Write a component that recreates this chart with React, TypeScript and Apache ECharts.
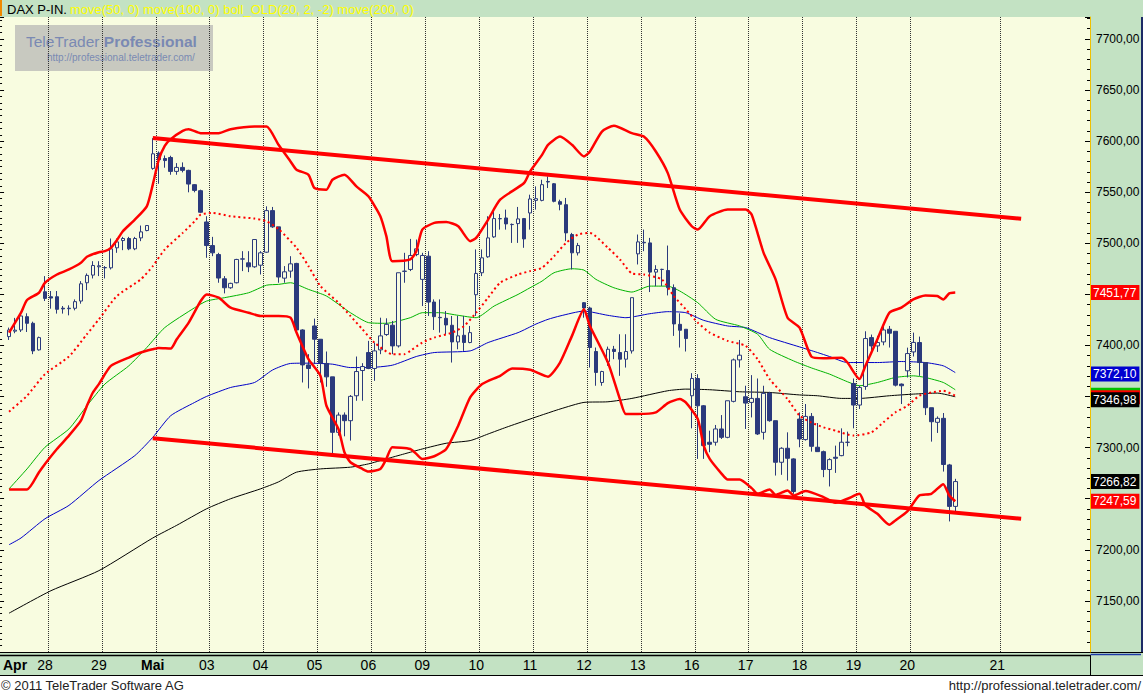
import React, { useEffect, useRef } from 'react';
import * as echarts from 'echarts';

// ---------- data ----------
const SLOT_COUNT = 181;

// x-axis labels: [slot index, text, bold]
const dayLabels: [number, string, boolean][] = [
  [0, 'Apr', true], [6, '28', false], [15, '29', false], [24, 'Mai', true], [33, '03', false],
  [42, '04', false], [51, '05', false], [60, '06', false], [69, '09', false], [78, '10', false],
  [87, '11', false], [96, '12', false], [105, '13', false], [114, '16', false], [123, '17', false],
  [132, '18', false], [141, '19', false], [150, '20', false], [165, '21', false],
];
// slots whose left edge carries a dotted day separator
const daySeparators = [7, 16, 25, 34, 43, 52, 61, 70, 79, 88, 97, 106, 115, 124, 133, 142, 151, 166];

// hourly candles: [open, high, low, close]
const ohlc: [number, number, number, number][] = [
  [7408.7, 7417.5, 7405.4, 7415.2], [7414, 7427, 7412, 7415], [7415.2, 7430.5, 7413.2, 7428.9],
  [7428.2, 7431.5, 7413.2, 7421.7], [7421.7, 7423.3, 7391.5, 7394.7], [7395.7, 7408.7, 7395, 7407.7],
  [7452.6, 7467.9, 7443.5, 7446.1], [7447.7, 7453.3, 7436, 7446.4], [7447.7, 7453.3, 7431.2, 7435.4],
  [7436.5, 7438.6, 7431.2, 7435.8], [7436, 7439.3, 7429.5, 7436.5], [7436.4, 7445.1, 7434.4, 7442.9],
  [7443.5, 7463, 7440.9, 7460.4], [7461.4, 7470.5, 7454.2, 7468.6], [7468.9, 7482.5, 7465.6, 7478.3],
  [7477, 7482.5, 7467.9, 7478], [7476, 7477.7, 7465.6, 7476.3], [7476, 7504.7, 7474.4, 7494.6],
  [7495.6, 7504.7, 7490.7, 7501.4], [7502.7, 7506.3, 7493.3, 7504.7], [7504.7, 7506.3, 7493.3, 7494.6],
  [7494.6, 7506.3, 7493.3, 7504.7], [7505.3, 7517.4, 7502.1, 7511.2], [7512.5, 7517.4, 7511.8, 7517.4],
  [7573.3, 7602.9, 7572, 7587.6], [7588.3, 7589.9, 7558.3, 7581.8], [7583, 7586, 7574, 7581],
  [7584, 7585.7, 7567.1, 7570.4], [7570.4, 7578.5, 7567.1, 7574.3], [7574.3, 7579.2, 7569.4, 7571.4],
  [7571.4, 7572, 7549.9, 7558], [7557.4, 7558, 7549.9, 7551.8], [7551.5, 7552.5, 7529.7, 7530.4],
  [7520.9, 7526.5, 7485.8, 7497.8], [7497.8, 7506.3, 7487.4, 7490.7], [7489, 7490.7, 7461.4, 7466],
  [7465.3, 7467.9, 7451, 7456.5], [7456.5, 7461.4, 7455.5, 7460.8], [7461.4, 7484.8, 7460.8, 7484.2],
  [7484.5, 7492.3, 7472.8, 7484.8], [7480.9, 7492.3, 7471.8, 7477], [7477, 7503.7, 7476, 7503.7],
  [7478.6, 7492.3, 7469.5, 7490.7], [7491.3, 7536.2, 7490.7, 7532], [7532, 7535.6, 7515.1, 7516.1],
  [7516.1, 7516.1, 7461.4, 7467], [7465.9, 7477.7, 7461.4, 7472.1], [7472.8, 7487.4, 7466.3, 7479.9],
  [7480.3, 7480.9, 7415.2, 7415.2], [7415.2, 7415.9, 7363.8, 7381], [7381, 7391.5, 7358, 7377.5],
  [7419.1, 7426.3, 7381.7, 7406.1], [7406.1, 7406.1, 7363.8, 7382.7], [7382.4, 7394.1, 7359.6, 7369.3],
  [7369.3, 7369.3, 7293.9, 7315], [7315, 7334.5, 7311.8, 7331.9], [7331.9, 7334.5, 7311.1, 7326.4],
  [7326.4, 7351.5, 7306.9, 7350.2], [7350.8, 7389.2, 7345.9, 7374.5], [7375.5, 7382.7, 7345.9, 7379.4],
  [7393.1, 7404.5, 7376.8, 7377.5], [7377.5, 7402.9, 7365.4, 7394.7], [7395.7, 7427.2, 7391.5, 7409.4],
  [7410.7, 7426.6, 7409.4, 7420.7], [7419.8, 7424, 7391.5, 7399.6], [7399.6, 7471.2, 7398, 7471.2],
  [7472.5, 7490.7, 7461.4, 7472.8], [7474.4, 7504.3, 7472.8, 7488.1], [7489, 7503.7, 7487.4, 7494.6],
  [7464.7, 7490.7, 7438.6, 7488.1], [7487.4, 7492.3, 7428.9, 7442.5], [7442.5, 7445.1, 7415.2, 7428.2],
  [7427.5, 7445.1, 7412.6, 7427.2], [7426.6, 7433.7, 7411, 7420.1], [7419.8, 7428.9, 7383.3, 7403.5],
  [7403.5, 7428.9, 7396.3, 7409.4], [7410, 7428.9, 7394.7, 7402.9], [7402.9, 7419.1, 7402.2, 7412.6],
  [7449.7, 7494, 7428.9, 7470.5], [7471.2, 7494, 7467.9, 7485.8], [7486.8, 7526.5, 7485.8, 7505.3],
  [7506.3, 7533, 7505.3, 7524.2], [7524, 7528.7, 7513.4, 7524.2], [7524.8, 7533, 7513.4, 7519],
  [7518.5, 7519.4, 7500.4, 7518.3], [7519.3, 7535.6, 7500.4, 7523.9], [7524.2, 7524.8, 7495.6, 7504.3],
  [7529.7, 7547.6, 7513.4, 7543.4], [7542, 7555.7, 7533, 7543.7], [7542, 7562.2, 7541.1, 7557.4],
  [7560, 7565.5, 7554.1, 7560.5], [7558.3, 7559, 7540.1, 7541.1], [7540.8, 7542.7, 7532.3, 7538.2],
  [7537.8, 7544.4, 7502.1, 7510.2], [7508.6, 7510.2, 7474.4, 7490.7], [7490.7, 7500.4, 7488.1, 7497.8],
  [7441.9, 7442.5, 7427.2, 7436.7], [7436.7, 7438, 7378.4, 7398], [7394.1, 7398, 7360.6, 7373.6],
  [7363.8, 7375.2, 7360.6, 7374.5], [7384.3, 7398.9, 7380.1, 7396.3], [7396.3, 7399.6, 7386.6, 7394.1],
  [7393.1, 7411, 7370.3, 7386.6], [7386.6, 7411, 7378.4, 7394.1], [7394.7, 7446.8, 7392.1, 7446.8],
  [7489.7, 7508.6, 7479.3, 7501.4], [7501, 7513.4, 7492.3, 7500.5], [7500.4, 7505.3, 7452.3, 7471.8],
  [7471.8, 7478.6, 7458.1, 7474.4], [7474.4, 7475.1, 7458.1, 7474.5], [7473.4, 7497.8, 7449, 7456.5],
  [7456.5, 7459.8, 7409.4, 7421.1], [7420.7, 7431.5, 7398, 7414.9], [7415.9, 7415.9, 7394.1, 7406.8],
  [7350.8, 7372.9, 7318.9, 7367.7], [7367.7, 7371.9, 7289, 7341], [7341, 7341.7, 7289, 7302],
  [7305.3, 7316.6, 7295.5, 7303.3], [7305.3, 7322.2, 7302, 7318.3], [7318.3, 7331.9, 7308.5, 7310.1],
  [7310.1, 7345.9, 7309.2, 7345.9], [7345.3, 7387.2, 7344.3, 7385.9], [7385.9, 7405.4, 7378.4, 7390.5],
  [7349.8, 7360.6, 7318.3, 7343.6], [7344.3, 7371, 7329.6, 7348.2], [7348.2, 7367.7, 7312.4, 7313.4],
  [7315, 7360.6, 7307.9, 7353.1], [7353.4, 7354.7, 7325.4, 7326.4], [7326.4, 7326.4, 7272.7, 7285.7],
  [7285.7, 7300.4, 7273.4, 7299.4], [7299.4, 7315, 7267.8, 7289.6], [7289, 7289.6, 7254.8, 7257.1],
  [7328, 7334.5, 7300.4, 7308.5], [7307.9, 7342.7, 7306.9, 7330.6], [7330.6, 7333.9, 7296.1, 7301.3],
  [7300.4, 7324.1, 7296.1, 7296.1], [7296.1, 7297.1, 7271.1, 7278.6], [7278.6, 7289.6, 7262, 7288.3],
  [7290.6, 7302, 7275.3, 7289.6], [7292.2, 7318.9, 7291.6, 7305.3], [7305.2, 7315.7, 7301.3, 7305.3],
  [7362.8, 7367.7, 7318.9, 7341.7], [7341.7, 7360.6, 7337.8, 7358.9], [7359.9, 7413.9, 7356.6, 7406.8],
  [7407.7, 7410.7, 7394.7, 7399.6], [7399.6, 7409.4, 7393.7, 7402.9], [7403.5, 7418.5, 7400.2, 7415.2],
  [7415.9, 7419.1, 7398, 7412], [7413.9, 7413.9, 7359.9, 7361.2], [7362.2, 7362.8, 7342.7, 7360.6],
  [7375.2, 7397.9, 7368.7, 7392.1], [7393.7, 7412.6, 7389.2, 7403], [7402.9, 7408.7, 7370.3, 7383.3],
  [7383.3, 7383.3, 7331.9, 7339.1], [7339.1, 7339.1, 7305.9, 7325.4], [7324.8, 7330.6, 7314.4, 7328.7],
  [7328.7, 7333.9, 7276.6, 7283.5], [7283.1, 7284.1, 7227.8, 7242.5], [7242.5, 7269.5, 7237, 7266.8],
];

// indicator lines: [slot index, value]
const bollUpper: [number, number][] = [
  [0, 7412.6], [2, 7432.1], [3, 7444.5], [5, 7451.6], [6, 7461.4], [8, 7469.5], [10, 7474.4], [12, 7480.9],
  [13, 7486.8], [15, 7491.3], [16, 7492.3], [17, 7495.6], [18, 7503], [19, 7511.8], [21, 7523.2], [23, 7536.2],
  [24, 7557.4], [25, 7581.8], [26, 7595.4], [27, 7602], [29, 7610.1], [30, 7611.7], [32, 7607.8], [35, 7607.8],
  [37, 7611.7], [41, 7614.3], [43, 7614.3], [45, 7596.4], [47, 7580.1], [48, 7572], [50, 7567.1], [51, 7554.1],
  [53, 7552.5], [54, 7562.2], [56, 7567.1], [58, 7555.7], [60, 7546], [62, 7526.5], [63, 7507], [64, 7482.5],
  [67, 7484.2], [68, 7492.3], [69, 7513.4], [71, 7520], [73, 7520.9], [75, 7516.7], [77, 7502.1], [78, 7505.3],
  [80, 7523.2], [82, 7542.7], [86, 7559], [87, 7570.4], [89, 7586.6], [90, 7596.4], [92, 7604.5], [94, 7596.4],
  [96, 7585], [97, 7589.9], [99, 7609.4], [101, 7615], [104, 7607.8], [106, 7604.5], [108, 7589.9], [110, 7568.7],
  [112, 7533], [114, 7516.7], [115, 7513.4], [117, 7526.5], [120, 7533], [123, 7533], [124, 7528.1], [126, 7490.7],
  [128, 7464.7], [130, 7427.2], [132, 7417.5], [134, 7389], [136, 7387.5], [139, 7387.9], [140, 7383.3],
  [142, 7367.1], [143, 7380.1], [145, 7406.1], [147, 7432.1], [149, 7437], [151, 7445.1], [153, 7449],
  [155, 7448.4], [156, 7445.1], [157, 7451], [158, 7451.8],
];
const bollLower: [number, number][] = [
  [0, 7259.1], [3, 7259.1], [5, 7276], [6, 7284.1], [8, 7298.7], [10, 7311.8], [12, 7326.4], [13, 7341],
  [14, 7354], [15, 7362.2], [17, 7380], [20, 7388.2], [22, 7393.1], [24, 7396.3], [25, 7397.6], [27, 7397],
  [28, 7406.1], [30, 7422.4], [32, 7443.5], [33, 7450], [35, 7446.8], [37, 7437], [40, 7432.1], [42, 7428.9],
  [45, 7428.9], [47, 7427.2], [48, 7412.6], [50, 7386.6], [52, 7370.3], [53, 7341], [55, 7318.3], [56, 7295.5],
  [57, 7285.7], [59, 7279.2], [60, 7276.6], [62, 7279.2], [63, 7289], [64, 7300.4], [67, 7298.7], [68, 7293.9],
  [69, 7289], [71, 7291.6], [73, 7298.7], [75, 7321.5], [77, 7349.2], [79, 7362.2], [82, 7370.3], [84, 7377.5],
  [87, 7376.2], [90, 7369.5], [92, 7383.3], [94, 7409.4], [96, 7435.4], [97, 7419.1], [100, 7383.3],
  [102, 7347.5], [103, 7332.9], [105, 7332.9], [108, 7334.5], [110, 7343.6], [112, 7347.5], [113, 7344.3],
  [115, 7328], [116, 7302], [117, 7289], [119, 7274.4], [120, 7268.8], [122, 7268.8], [124, 7260.4],
  [125, 7254.8], [127, 7259.1], [128, 7253.9], [130, 7258.1], [131, 7253.2], [133, 7257.6], [136, 7251.6],
  [138, 7246.1], [140, 7250], [142, 7254.8], [143, 7243.5], [145, 7235.3], [147, 7224.6], [148, 7228.8],
  [150, 7237.6], [152, 7253.2], [154, 7254.8], [156, 7264.3], [157, 7253.2], [158, 7247.6],
];
const bollMiddle: [number, number][] = [
  [0, 7335.2], [3, 7350.8], [6, 7371.9], [10, 7389.2], [13, 7411], [15, 7425.6], [18, 7448.4], [22, 7464.7],
  [24, 7477.7], [26, 7493.9], [29, 7510.2], [31, 7521.6], [32, 7528.1], [34, 7529.7], [37, 7526.5], [41, 7524.2],
  [43, 7521.5], [45, 7514], [48, 7495.6], [50, 7477.7], [52, 7458.1], [55, 7441.9], [57, 7428.9], [59, 7415.9],
  [61, 7402.9], [64, 7391.5], [66, 7391.5], [67, 7394.7], [69, 7402.9], [71, 7407.7], [74, 7412.6], [76, 7419.1],
  [78, 7432.1], [80, 7446.8], [82, 7461.4], [85, 7469.5], [87, 7472.8], [89, 7476], [91, 7487.4], [93, 7500.4],
  [95, 7508.6], [97, 7510.2], [100, 7495.6], [102, 7484.2], [104, 7470.5], [106, 7469.5], [109, 7464.7],
  [111, 7448.4], [113, 7435.4], [115, 7422.4], [117, 7412.6], [120, 7404.5], [123, 7399.6], [125, 7386.6],
  [127, 7367.1], [130, 7347.5], [132, 7331.3], [134, 7324.5], [136, 7319.9], [138, 7316.6], [141, 7311.8],
  [144, 7315], [146, 7324.8], [148, 7334.5], [150, 7341], [152, 7350.8], [154, 7354], [156, 7355.7], [158, 7350.8],
];
const ma50: [number, number][] = [
  [0, 7259.7], [3, 7279.2], [6, 7300.4], [10, 7318.3], [13, 7341], [16, 7362.2], [20, 7380.1], [23, 7398],
  [26, 7417.5], [31, 7437], [33, 7443.5], [36, 7446.8], [40, 7451.6], [43, 7459], [45, 7459.8], [47, 7461.4],
  [50, 7454.9], [53, 7448.4], [57, 7432.1], [60, 7422.4], [63, 7421.7], [67, 7427.2], [69, 7432.1], [72, 7432.1],
  [75, 7429.5], [78, 7427.2], [81, 7438.6], [85, 7450], [87, 7456.5], [89, 7463], [91, 7471.2], [94, 7475.1],
  [96, 7473.8], [98, 7464.7], [101, 7456.5], [104, 7452.3], [107, 7458.1], [110, 7458.1], [112, 7453.3],
  [115, 7441.9], [118, 7425.6], [122, 7419.1], [125, 7411], [127, 7396.3], [131, 7384.9], [134, 7378],
  [137, 7372], [140, 7364.5], [142, 7360.6], [145, 7363.8], [148, 7368.7], [151, 7370.3], [153, 7368.7],
  [156, 7363.8], [158, 7356.7],
];
const ma100: [number, number][] = [
  [0, 7205], [2, 7211.6], [6, 7230.4], [10, 7243.5], [15, 7267.8], [21, 7292.2], [24, 7310.1], [27, 7331.3],
  [31, 7344.3], [33, 7350.2], [37, 7358.9], [41, 7363.8], [44, 7376], [47, 7382.4], [50, 7382.7], [54, 7381.7],
  [57, 7378.4], [60, 7378.4], [64, 7380.7], [68, 7389.2], [71, 7393.1], [77, 7394.7], [80, 7402.9], [85, 7412.6],
  [88, 7421], [90, 7425.6], [92, 7428.9], [96, 7433.7], [100, 7429.5], [103, 7427.2], [107, 7431.1],
  [110, 7433.1], [113, 7432.1], [116, 7424.6], [120, 7419.1], [123, 7417.5], [127, 7407.7], [132, 7398.6],
  [135, 7393.1], [137, 7389.2], [140, 7383.3], [145, 7383.3], [149, 7384.3], [153, 7383.3], [156, 7380.1],
  [158, 7373.5],
];
const ma200: [number, number][] = [
  [0, 7138], [7, 7160], [15, 7179.6], [24, 7211.6], [28, 7224], [33, 7240.2], [37, 7250], [42, 7259.7],
  [45, 7266.5], [48, 7276], [52, 7279.2], [57, 7280.9], [60, 7284.1], [63, 7289], [66, 7293.9], [69, 7298.7],
  [73, 7304.3], [77, 7306.9], [80, 7313.4], [83, 7319.9], [87, 7328], [89, 7332], [92, 7337.8], [96, 7344.3],
  [100, 7344.9], [104, 7348.2], [110, 7355.7], [113, 7357.3], [117, 7356.7], [122, 7354.7], [127, 7354],
  [132, 7351.6], [135, 7350.8], [139, 7348.2], [142, 7348.2], [147, 7350.8], [151, 7352.4], [155, 7353.4],
  [158, 7349.8],
];
const trendUpper: [number, number][] = [[24, 7603], [169, 7524]];
const trendLower: [number, number][] = [[24, 7309.2], [169, 7230.4]];

// price tags on the value axis: [value, background, shows text]
const priceTags: [number, string, boolean][] = [
  [7451.77, '#ff0000', true],
  [7372.10, '#0000d0', true],
  [7351.9, '#00c000', false],
  [7349.4, '#ff0000', false],
  [7346.98, '#000000', true],
  [7266.82, '#000000', true],
  [7247.59, '#ff0000', true],
];
const hiddenTickValues = [7100, 7250, 7350, 7450];

// ---------- styles ----------
const PLOT_BG = '#f8fce0';
const PANEL = '#c3e2c3';
const NAVY = '#2b3a7c';
const FONT = 'Liberation Sans, Arial, sans-serif';

const fmt = (v: number) => v.toFixed(2).replace('.', ',');

export default function App() {
  const ref = useRef<HTMLDivElement>(null);

  useEffect(() => {
    document.body.style.margin = '0';
    const chart = echarts.init(ref.current!, null, { renderer: 'svg' });
    const labelMap: Record<number, [string, boolean]> = {};
    dayLabels.forEach(([i, t, b]) => (labelMap[i] = [t, b]));
    const sepSet = new Set(daySeparators);

    const lineSeries = (name: string, data: [number, number][], color: string, width: number, z: number, extra: any = {}) => ({
      name, type: 'line', data, symbol: 'none', showSymbol: false, smooth: 0.2, z,
      lineStyle: { color, width, ...(extra.lineStyle || {}) }, silent: true, animation: false,
      ...(extra.rest || {}),
    });

    const option: any = {
      animation: false,
      backgroundColor: 'transparent',
      grid: { left: 6, top: 17, width: 1084, height: 635, containLabel: false },
      xAxis: {
        type: 'category',
        data: Array.from({ length: SLOT_COUNT }, (_, i) => String(i)),
        boundaryGap: true,
        axisLine: { show: false },
        axisTick: { show: false },
        splitLine: {
          show: true,
          interval: (i: number) => sepSet.has(i),
          lineStyle: { color: '#333', type: [1, 1], width: 1 },
        },
        axisLabel: {
          interval: (i: number) => labelMap[i] !== undefined,
          formatter: (_v: string, i: number) => {
            const l = labelMap[i];
            if (!l) return '';
            if (i === 0) return `{p|${l[0]}}`;
            return l[1] ? `{b|${l[0]}}` : l[0];
          },
          margin: 6,
          color: '#000',
          fontSize: 14,
          fontFamily: FONT,
          rich: {
            b: { fontWeight: 'bold', fontSize: 14, fontFamily: FONT, color: '#000' },
            p: { fontWeight: 'bold', fontSize: 14, fontFamily: FONT, color: '#000', padding: [0, 0, 0, 12] },
          },
        },
      },
      yAxis: [
        {
          type: 'value', position: 'right', min: 7100, max: 7721.5, interval: 50,
          axisLine: { show: true, lineStyle: { color: '#f0c000', width: 1 } },
          axisTick: { show: true, inside: true, length: 5, lineStyle: { color: '#000' } },
          minorTick: { show: true, splitNumber: 5, length: 3, lineStyle: { color: '#000' } },
          splitLine: { show: false },
          axisLabel: {
            margin: 6, color: '#000', fontSize: 12, fontFamily: FONT, showMaxLabel: false,
            formatter: (v: number) => {
              const r = Math.round(v * 100) / 100;
              if (r % 50 !== 0 || hiddenTickValues.includes(r)) return '';
              return fmt(r);
            },
          },
        },
        {
          type: 'value', position: 'left', offset: 6, min: 7100, max: 7721.5, interval: 50,
          axisLine: { show: false },
          axisTick: { show: true, inside: true, length: 4, lineStyle: { color: '#000' } },
          minorTick: { show: true, splitNumber: 8, length: 2, lineStyle: { color: '#000' } },
          splitLine: { show: false },
          axisLabel: { show: false },
        },
      ],
      series: [
        lineSeries('move(200, 0)', ma200, '#000000', 1, 1),
        lineSeries('move(100, 0)', ma100, '#0000c8', 1, 1),
        lineSeries('move(50, 0)', ma50, '#00b400', 1, 1),
        {
          name: 'DAX P-IN.', type: 'candlestick', z: 2, barWidth: 4, silent: true, animation: false,
          data: ohlc.map(([o, h, l, c]) => [o, c, l, h]),
          itemStyle: { color: PLOT_BG, color0: NAVY, borderColor: NAVY, borderColor0: NAVY, borderWidth: 1 },
        },
        lineSeries('boll middle', bollMiddle, '#ff0000', 2, 3, { lineStyle: { type: [2, 3] } }),
        lineSeries('boll upper', bollUpper, '#ff0000', 2.5, 3),
        lineSeries('boll lower', bollLower, '#ff0000', 2.5, 3),
        lineSeries('trend upper', trendUpper, '#ff0000', 4, 4, { rest: { smooth: false } }),
        lineSeries('trend lower', trendLower, '#ff0000', 4, 4, {
          rest: {
            smooth: false,
            markLine: {
              silent: true, animation: false, symbol: ['none', 'none'],
              lineStyle: { color: 'transparent', width: 0 },
              data: priceTags.map(([v, bg, withText]) => ({
                yAxis: v,
                label: withText
                  ? {
                      show: true, position: 'end', distance: 1, formatter: fmt(v),
                      color: '#ffffff', backgroundColor: bg, padding: [2, 3, 1, 2],
                      fontSize: 12, fontFamily: FONT,
                    }
                  : {
                      show: true, position: 'end', distance: 1, formatter: ' ',
                      backgroundColor: bg, width: 44, height: 11, padding: [2, 3, 1, 2],
                      fontSize: 12, fontFamily: FONT,
                    },
              })),
            },
          },
        }),
      ],
      graphic: [
        { type: 'rect', z: -1, shape: { x: 0, y: 0, width: 1143, height: 17 }, style: { fill: PANEL } },
        { type: 'rect', z: -1, shape: { x: 0, y: 0, width: 2, height: 16 }, style: { fill: '#f08a00' } },
        { type: 'text', z: -1, x: 7, y: 9, style: { text: 'DAX P-IN.', fill: '#000', font: `13px ${FONT}`, verticalAlign: 'middle' } },
        { type: 'text', z: -1, x: 70, y: 9, style: { text: 'move(50, 0) move(100, 0) boll_OLD(20, 2, -2) move(200, 0)', fill: '#ffff00', font: `13px ${FONT}`, verticalAlign: 'middle' } },
        { type: 'rect', z: -1, shape: { x: 1090, y: 17, width: 53, height: 636 }, style: { fill: PANEL } },
        { type: 'rect', z: -1, shape: { x: 1141, y: 17, width: 2, height: 636 }, style: { fill: '#1c2a66' } },
        { type: 'rect', z: -1, shape: { x: 0, y: 652, width: 1143, height: 24 }, style: { fill: PANEL } },
        { type: 'line', z: -1, shape: { x1: 0, y1: 652.5, x2: 1143, y2: 652.5 }, style: { stroke: '#000', lineWidth: 1 } },
        { type: 'line', z: -1, shape: { x1: 0, y1: 655.5, x2: 1090, y2: 655.5 }, style: { stroke: '#000', lineWidth: 1.5 } },
        { type: 'line', z: -1, shape: { x1: 0, y1: 675.5, x2: 1143, y2: 675.5 }, style: { stroke: '#000', lineWidth: 1 } },
        { type: 'line', z: -1, shape: { x1: 1090.5, y1: 655, x2: 1090.5, y2: 676 }, style: { stroke: '#000', lineWidth: 1 } },
        { type: 'line', z: -1, shape: { x1: 1090.5, y1: 654.5, x2: 1141, y2: 654.5 }, style: { stroke: '#1c3aa8', lineWidth: 1.5 } },
        { type: 'rect', z: -1, shape: { x: 0, y: 676, width: 1143, height: 18 }, style: { fill: '#ffffff' } },
        { type: 'text', z: -1, x: 1, y: 685, style: { text: '© 2011 TeleTrader Software AG', fill: '#222', font: `13px ${FONT}`, verticalAlign: 'middle' } },
        { type: 'text', z: -1, x: 1141, y: 685, style: { text: 'http://professional.teletrader.com/', fill: '#222', font: `13px ${FONT}`, verticalAlign: 'middle', align: 'right' } },
        { type: 'rect', z: -1, shape: { x: 15, y: 25, width: 198, height: 46 }, style: { fill: '#c8c9c0' } },
        {
          type: 'text', z: -1, x: 26, y: 41,
          style: {
            text: '{a|TeleTrader }{b|Professional}', verticalAlign: 'middle',
            rich: {
              a: { fill: '#7a89b3', fontSize: 15.5, fontFamily: FONT },
              b: { fill: '#7a89b3', fontSize: 15.5, fontFamily: FONT, fontWeight: 'bold' },
            },
          },
        },
        { type: 'text', z: -1, x: 47, y: 57, style: { text: 'http://professional.teletrader.com/', fill: '#7a89b3', font: `10px ${FONT}`, verticalAlign: 'middle' } },
      ],
    };
    chart.setOption(option);
    return () => chart.dispose();
  }, []);

  return <div ref={ref} style={{ width: 1143, height: 694, background: PLOT_BG }} />;
}
